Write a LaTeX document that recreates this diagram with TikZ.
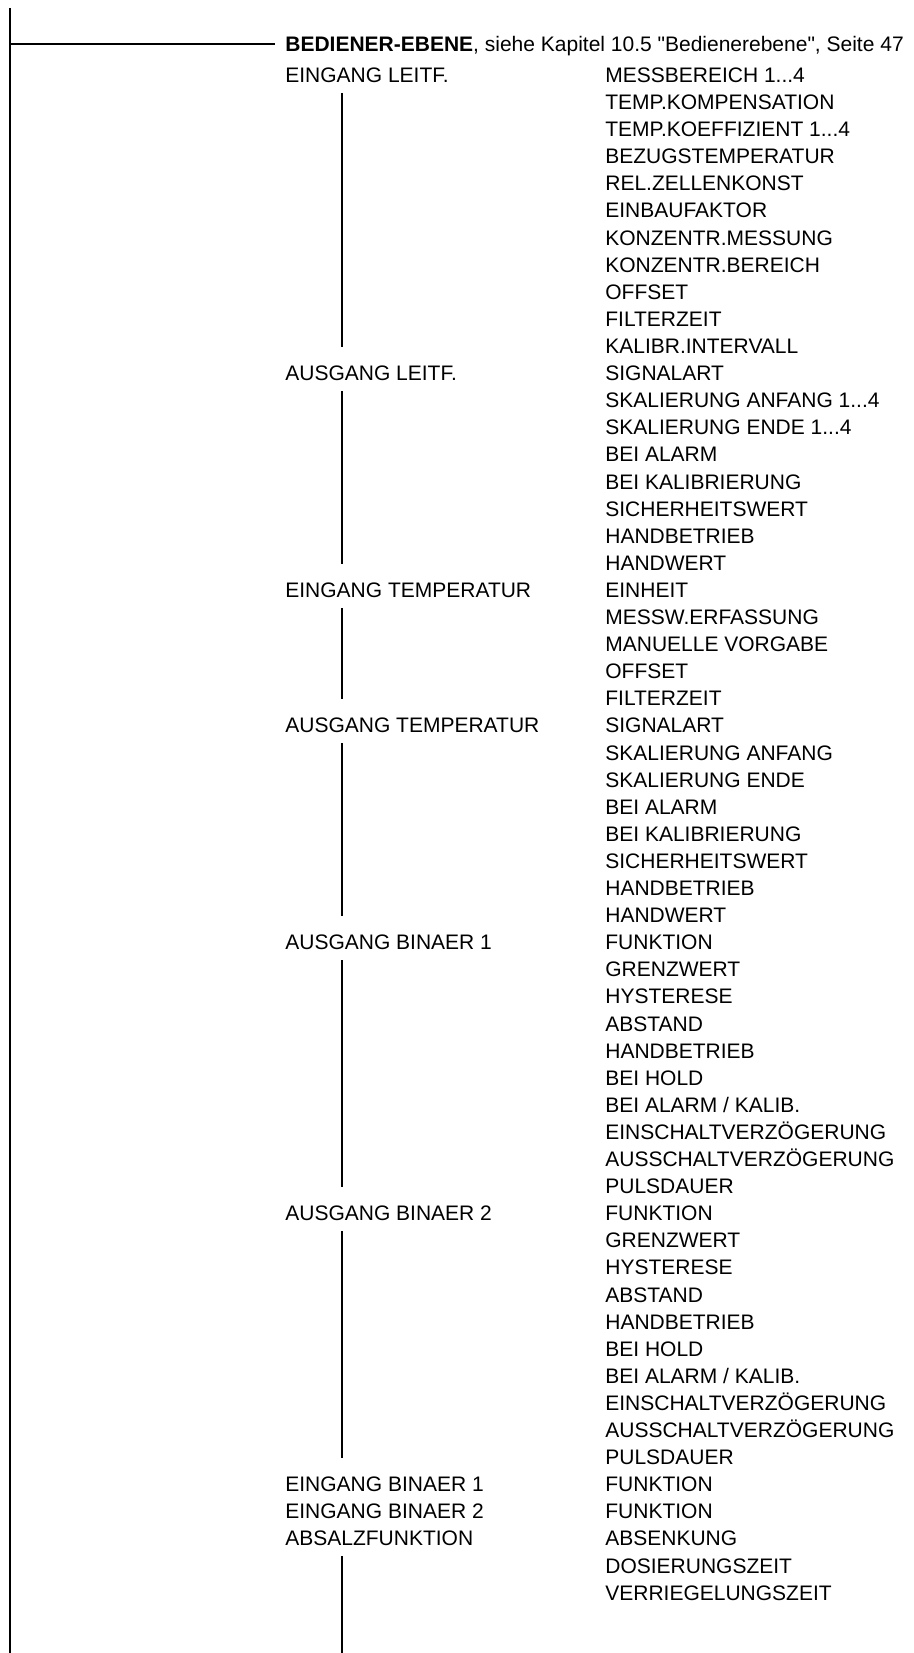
\documentclass[tikz,border=0pt]{standalone}
\usepackage{fontspec}
\setmainfont{Liberation Sans}
\usetikzlibrary{calc}
\newcommand{\ndots}{...}

\tikzset{
  entry/.style={anchor=base west,inner sep=0pt},
  trunk/.style={line width=1.7pt},
  branch/.style={line width=1.5pt},
}

\begin{document}
\begin{tikzpicture}[font=\fontsize{11.95}{14}\selectfont]
  \def\dy{0.542}
  \def\ytop{-1.65}
  \def\xa{5.7}
  \def\xb{12.1}
  \useasboundingbox (0,0) rectangle (18.28,-33.06);
  \coordinate (top) at (0.2,-0.16);
  \coordinate (bottom) at (0.2,-33.06);
  \coordinate (bar) at (6.84,0);
  \coordinate (barend) at (6.84,-33.06);
  \draw[trunk] (top) -- (bottom);
  \node[entry] (head) at (\xa,-1.03)
    {\textbf{BEDIENER-EBENE}, siehe Kapitel 10.5 \textquotedbl Bedienerebene\textquotedbl, Seite 47};
  \draw[trunk] ($(head.base west -| top)+(0,0.15)$) -- ($(head.base west)+(-0.2,0.15)$);
  % parameters
  \foreach \txt [count=\i] in {MESSBEREICH 1\ndots 4, TEMP.KOMPENSATION,
      TEMP.KOEFFIZIENT 1\ndots 4, BEZUGSTEMPERATUR, REL.ZELLENKONST,
      EINBAUFAKTOR, KONZENTR.MESSUNG, KONZENTR.BEREICH, OFFSET, FILTERZEIT,
      KALIBR.INTERVALL,
      SIGNALART, SKALIERUNG ANFANG 1\ndots 4, SKALIERUNG ENDE 1\ndots 4,
      BEI ALARM, BEI KALIBRIERUNG, SICHERHEITSWERT, HANDBETRIEB, HANDWERT,
      EINHEIT, MESSW.ERFASSUNG, MANUELLE VORGABE, OFFSET, FILTERZEIT,
      SIGNALART, SKALIERUNG ANFANG, SKALIERUNG ENDE, BEI ALARM,
      BEI KALIBRIERUNG, SICHERHEITSWERT, HANDBETRIEB, HANDWERT,
      FUNKTION, GRENZWERT, HYSTERESE, ABSTAND, HANDBETRIEB, BEI HOLD,
      BEI ALARM / KALIB., EINSCHALTVERZÖGERUNG, AUSSCHALTVERZÖGERUNG, PULSDAUER,
      FUNKTION, GRENZWERT, HYSTERESE, ABSTAND, HANDBETRIEB, BEI HOLD,
      BEI ALARM / KALIB., EINSCHALTVERZÖGERUNG, AUSSCHALTVERZÖGERUNG, PULSDAUER,
      FUNKTION, FUNKTION, ABSENKUNG, DOSIERUNGSZEIT, VERRIEGELUNGSZEIT}
    \node[entry] (p\i) at (\xb,{\ytop-(\i-1)*\dy}) {\txt};
  % menus
  \foreach \txt/\row/\name in {EINGANG LEITF./1/el, AUSGANG LEITF./12/al,
      EINGANG TEMPERATUR/20/et, AUSGANG TEMPERATUR/25/at,
      AUSGANG BINAER 1/33/ab1, AUSGANG BINAER 2/43/ab2,
      EINGANG BINAER 1/53/eb1, EINGANG BINAER 2/54/eb2, ABSALZFUNKTION/55/az}
    \node[entry] (\name) at (\xa,{\ytop-(\row-1)*\dy}) {\txt};
  \foreach \a/\b in {el/al, al/et, et/at, at/ab1, ab1/ab2, ab2/eb1}
    \draw[branch] ($(\a.base west -| bar)+(0,-0.21)$) -- ($(\b.base west -| bar)+(0,0.67)$);
  \draw[branch] ($(az.base west -| bar)+(0,-0.21)$) -- (barend);
\end{tikzpicture}
\end{document}
